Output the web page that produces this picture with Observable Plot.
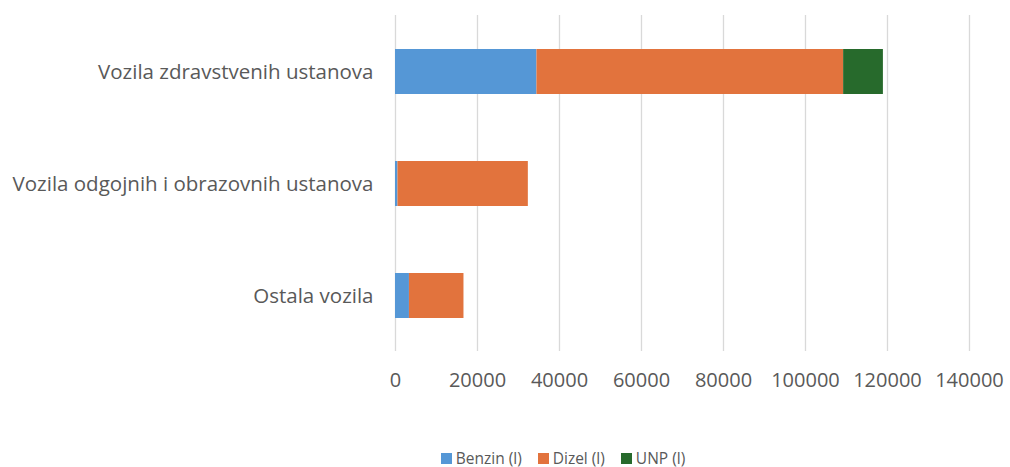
<!DOCTYPE html>
<html>
<head>
<meta charset="utf-8">
<script src="https://cdn.jsdelivr.net/npm/d3@7"></script>
<script src="https://cdn.jsdelivr.net/npm/@observablehq/plot@0.6"></script>
<style>
  html, body { margin: 0; padding: 0; background: #fff; }
  #chart { width: 1010px; height: 410px; }
  .legend { display: flex; justify-content: center; gap: 16px; font-family: "Open Sans", sans-serif; font-size: 15.5px; line-height: 20px; color: #595959; padding-left: 116px; box-sizing: border-box; width: 1010px; }
  .legend span.item { display: inline-flex; align-items: center; }
  .legend span.sw { display: inline-block; width: 11px; height: 11px; margin-right: 4px; }
</style>
</head>
<body>
<div id="chart"></div>
<script>
const categories = ["Vozila zdravstvenih ustanova", "Vozila odgojnih i obrazovnih ustanova", "Ostala vozila"];
const series = ["Benzin (l)", "Dizel (l)", "UNP (l)"];
const benzin = [34500, 600, 3400];
const dizel = [74800, 31800, 13300];
const unp = [9700, 0, 0];
const xTicks = [0, 20000, 40000, 60000, 80000, 100000, 120000, 140000];
const colors = ["#5597D6", "#E2733D", "#276A2C"];

const rows = [];
categories.forEach((c, i) => {
  rows.push({category: c, fuel: series[0], value: benzin[i]});
  rows.push({category: c, fuel: series[1], value: dizel[i]});
  rows.push({category: c, fuel: series[2], value: unp[i]});
});

const chart = Plot.plot({
  width: 1010,
  height: 410,
  marginLeft: 395,
  marginRight: 41,
  marginTop: 15,
  marginBottom: 59,
  style: { fontFamily: "'Open Sans', sans-serif", color: "#595959", background: "#fff" },
  x: { domain: [0, 140000], ticks: xTicks, label: null },
  y: { domain: categories, paddingInner: 0.6, paddingOuter: 0.3, label: null },
  color: { domain: series, range: colors },
  marks: [
    Plot.gridX(xTicks, { stroke: "#d9d9d9", strokeOpacity: 1, strokeWidth: 1.3 }),
    Plot.barX(rows, Plot.stackX({ y: "category", x: "value", fill: "fuel", order: series })),
    Plot.axisX(xTicks, { tickSize: 0, tickPadding: 21, fontSize: 20, tickFormat: d => String(d), fill: "#595959" }),
    Plot.axisY({ tickSize: 0, tickPadding: 22, fontSize: 20.5, fill: "#595959" })
  ]
});
document.getElementById("chart").appendChild(chart);

const legend = document.createElement("div");
legend.className = "legend";
series.forEach((s, i) => {
  const item = document.createElement("span");
  item.className = "item";
  const sw = document.createElement("span");
  sw.className = "sw";
  sw.style.background = colors[i];
  item.appendChild(sw);
  item.appendChild(document.createTextNode(s));
  legend.appendChild(item);
});
document.body.appendChild(legend);
legend.style.marginTop = "38px";
</script>
</body>
</html>
